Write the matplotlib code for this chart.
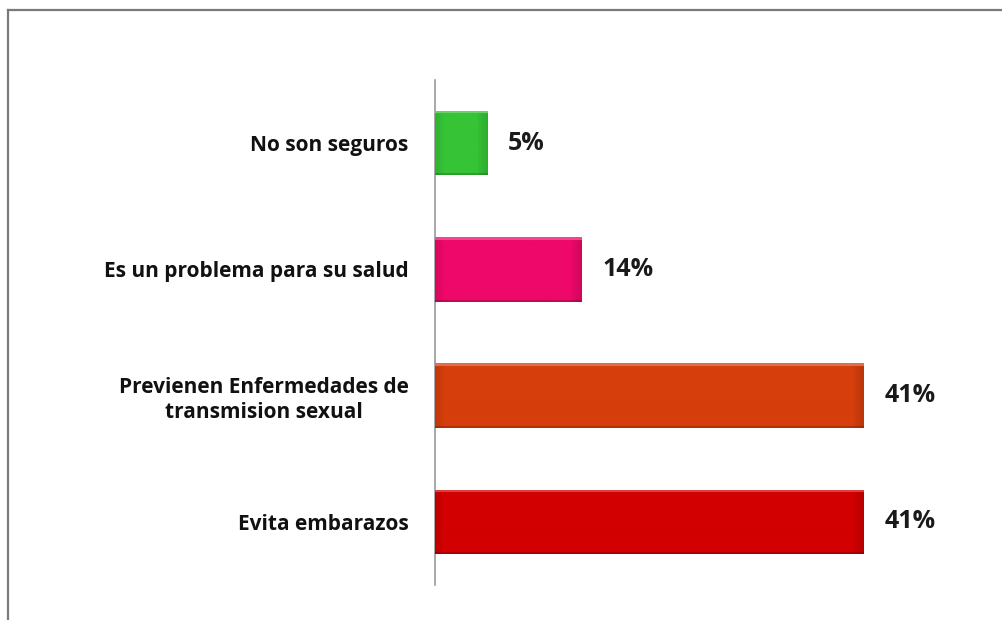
import numpy as np
import matplotlib
matplotlib.use("Agg")
import matplotlib.pyplot as plt
from matplotlib.colors import to_rgb
from matplotlib.lines import Line2D

plt.rcParams['font.family'] = ['Open Sans', 'DejaVu Sans']

# Survey answers, top to bottom
categories = [
    "No son seguros",
    "Es un problema para su salud",
    "Previenen Enfermedades de\ntransmision sexual",
    "Evita embarazos",
]
values = [5, 14, 41, 41]
value_labels = ["5%", "14%", "41%", "41%"]
bar_colors = ["#36C436", "#EE0869", "#D63E0C", "#D20000"]

W, H = 1003, 620
fig = plt.figure(figsize=(W / 100, H / 100), dpi=100)
fig.patch.set_facecolor("white")

ax = fig.add_axes([435 / W, 1 - 585 / H, (958 - 435) / W, (585 - 80) / H])

ypos = np.arange(len(categories))
bars = ax.barh(ypos, values, height=0.51, color=bar_colors, zorder=2)

ax.set_xlim(0, 50)
ax.set_ylim(len(categories) - 0.5, -0.5)


def shaded_bar(patch, color):
    """Paint a soft bevel over a bar: darker end caps, light top rim."""
    x0, y0 = patch.get_x(), patch.get_y()
    w, h = patch.get_width(), patch.get_height()
    nx = max(int(round(w * 10.46)), 2)
    ny = 64
    base = np.array(to_rgb(color))
    img = np.tile(base, (ny, nx, 1))
    shade = np.ones((ny, nx))
    cap = 10
    ramp = np.linspace(0.9, 1.0, cap)
    shade[:, :cap] *= ramp[None, :]
    shade[:, -cap:] *= ramp[::-1][None, :] * 0.97
    shade[-2:, :] *= 0.82
    img = np.clip(img * shade[..., None], 0, 1)
    img[:3, :] = np.clip(base + (1 - base) * 0.25, 0, 1)
    im = ax.imshow(img, extent=(x0, x0 + w, y0 + h, y0), origin="upper",
                   aspect="auto", interpolation="bilinear", zorder=3)
    im.set_clip_path(patch)


for patch, col in zip(bars, bar_colors):
    shaded_bar(patch, col)

for y, v, lab in zip(ypos, values, value_labels):
    ax.annotate(lab, xy=(v, y), xytext=(15, 0), textcoords="offset points",
                ha="left", va="center", fontsize=18, fontweight="bold",
                color="#1a1a1a")

ax.set_yticks(ypos)
ax.set_yticklabels(categories, fontsize=15, fontweight="bold", color="#111111",
                   linespacing=1.25)
for t in ax.get_yticklabels():
    t.set_multialignment("center")
ax.tick_params(axis="y", length=0, pad=19)
ax.set_xticks([])

for side in ("top", "right", "bottom"):
    ax.spines[side].set_visible(False)
ax.spines["left"].set_color("#9a9a9a")
ax.spines["left"].set_linewidth(1.2)
ax.set_facecolor("none")

# Frame lines along the left and top of the canvas
fig.add_artist(Line2D([8 / W, 8 / W], [0, 1 - 10 / H], transform=fig.transFigure,
                      color="#7a7a7a", linewidth=1.6))
fig.add_artist(Line2D([8 / W, 1], [1 - 10 / H, 1 - 10 / H], transform=fig.transFigure,
                      color="#7a7a7a", linewidth=1.6))

fig.savefig("out.png", dpi=100, facecolor="white")
